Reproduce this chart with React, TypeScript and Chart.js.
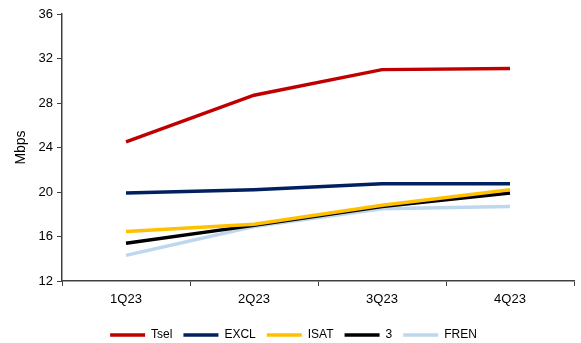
import { useEffect, useRef } from "react";
import { Chart, registerables } from "chart.js";

Chart.register(...registerables);

const categories = ["1Q23", "2Q23", "3Q23", "4Q23"];
const seriesNames = ["Tsel", "EXCL", "ISAT", "3", "FREN"];
const tsel = [24.5, 28.7, 31.0, 31.1];
const excl = [19.9, 20.2, 20.75, 20.75];
const isat = [16.45, 17.1, 18.8, 20.2];
const three = [15.4, 17.0, 18.7, 19.9];
const fren = [14.3, 16.9, 18.5, 18.7];
const seriesColors = ["#C00000", "#002060", "#FFC000", "#000000", "#BDD7EE"];
const yMin = 12;
const yMax = 36;
const yStep = 4;
const yTitle = "Mbps";

const FONT = "'Liberation Sans', Arial, sans-serif";
const AXIS = "#404040";

export default function App() {
  const ref = useRef<HTMLCanvasElement | null>(null);

  useEffect(() => {
    if (!ref.current) return;
    const values = [tsel, excl, isat, three, fren];
    const chart = new Chart(ref.current, {
      type: "line",
      data: {
        labels: categories,
        datasets: seriesNames.map((name, i) => ({
          label: name,
          data: values[i],
          borderColor: seriesColors[i],
          backgroundColor: seriesColors[i],
          borderWidth: 3.5,
          pointRadius: 0,
          pointHoverRadius: 0,
          pointStyle: "line",
          tension: 0,
          fill: false,
        })),
      },
      options: {
        animation: false,
        responsive: false,
        maintainAspectRatio: false,
        layout: { padding: { left: 13, right: 7, top: 14, bottom: -8 } },
        plugins: {
          tooltip: { enabled: false },
          legend: {
            position: "bottom",
            labels: {
              usePointStyle: true,
              pointStyleWidth: 35,
              boxHeight: 12,
              padding: 11,
              color: "#000",
              font: { family: FONT, size: 12 },
            },
          },
        },
        scales: {
          x: {
            offset: true,
            grid: {
              offset: true,
              drawOnChartArea: false,
              drawTicks: true,
              tickLength: 5,
              color: AXIS,
            },
            border: { color: AXIS, width: 1.5 },
            ticks: {
              color: "#000",
              font: { family: FONT, size: 13 },
              padding: 6,
              maxRotation: 0,
            },
            afterFit: (s: any) => {
              s.height = 37;
            },
          },
          y: {
            min: yMin,
            max: yMax,
            grid: {
              drawOnChartArea: false,
              drawTicks: true,
              tickLength: 5,
              color: AXIS,
            },
            border: { color: AXIS, width: 1.5 },
            ticks: {
              stepSize: yStep,
              color: "#000",
              font: { family: FONT, size: 13 },
              padding: 4,
            },
            title: {
              display: true,
              text: yTitle,
              color: "#000",
              font: { family: FONT, size: 14 },
              padding: { top: 0, bottom: 4 },
            },
            afterFit: (s: any) => {
              s.width = 49;
            },
          },
        },
      },
    });
    return () => chart.destroy();
  }, []);

  return (
    <div style={{ position: "fixed", left: 0, top: 0, width: 581, height: 343, background: "#fff" }}>
      <canvas ref={ref} width={581} height={343} style={{ width: 581, height: 343 }} />
    </div>
  );
}
